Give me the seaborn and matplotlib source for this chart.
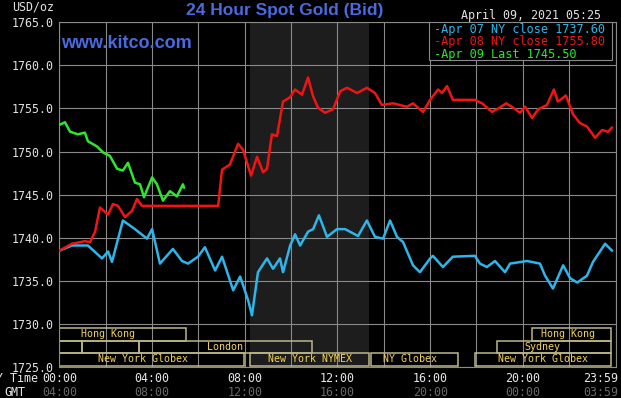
import pandas as pd
import matplotlib
matplotlib.use("Agg")
import matplotlib.pyplot as plt
from matplotlib.patches import Rectangle
import seaborn as sns

# hours after midnight (NY time) and bid in USD/oz
apr07_hours = [0.0, 0.54, 1.23, 1.84, 2.10, 2.27, 2.74, 3.26, 3.78, 4.00, 4.34, 4.90,
               5.29, 5.55, 5.98, 6.28, 6.72, 7.02, 7.50, 7.80, 8.15, 8.31, 8.57, 8.96,
               9.22, 9.52, 9.65, 9.96, 10.17, 10.39, 10.73, 10.95, 11.20, 11.55, 11.98,
               12.33, 12.89, 13.27, 13.62, 13.97, 14.27, 14.57, 14.83, 15.26, 15.56,
               16.00, 16.12, 16.55, 16.98, 17.93, 18.15, 18.45, 18.80, 19.23, 19.45,
               20.18, 20.74, 20.96, 21.30, 21.74, 22.04, 22.35, 22.77, 23.03, 23.55, 23.85]
apr07_bid = [1738.5, 1739.1, 1739.1, 1737.6, 1738.4, 1737.2, 1742.0, 1741.0, 1739.9, 1741.0,
             1737.0, 1738.7, 1737.3, 1737.0, 1737.8, 1738.9, 1736.2, 1737.8, 1733.9, 1735.5,
             1732.7, 1731.0, 1736.0, 1737.6, 1736.4, 1737.6, 1736.0, 1739.1, 1740.4, 1739.1,
             1740.7, 1741.0, 1742.6, 1740.1, 1741.0, 1741.0, 1740.2, 1742.0, 1740.1, 1739.9,
             1742.0, 1740.1, 1739.5, 1736.8, 1736.0, 1737.6, 1737.9, 1736.6, 1737.8, 1737.9,
             1737.0, 1736.6, 1737.3, 1736.0, 1737.0, 1737.3, 1737.0, 1735.6, 1734.1, 1736.8,
             1735.3, 1734.8, 1735.6, 1737.2, 1739.3, 1738.5]

apr08_hours = [0.0, 0.54, 1.10, 1.32, 1.54, 1.75, 2.10, 2.31, 2.53, 2.83, 3.13, 3.35, 3.56,
               6.85, 7.02, 7.36, 7.71, 7.93, 8.27, 8.53, 8.79, 8.96, 9.17, 9.39, 9.65, 9.95,
               10.17, 10.47, 10.73, 10.95, 11.16, 11.46, 11.81, 12.12, 12.41, 12.85, 13.27,
               13.62, 13.92, 14.40, 15.00, 15.26, 15.69, 16.00, 16.34, 16.51, 16.73, 16.98,
               17.93, 18.24, 18.67, 19.00, 19.28, 19.58, 19.88, 20.10, 20.40, 20.66, 21.04,
               21.34, 21.51, 21.86, 22.17, 22.47, 22.77, 23.12, 23.42, 23.68, 23.85]
apr08_bid = [1738.5, 1739.3, 1739.6, 1739.5, 1740.7, 1743.5, 1742.7, 1743.9, 1743.7, 1742.4,
             1743.1, 1744.5, 1743.7, 1743.7, 1747.9, 1748.5, 1750.9, 1750.2, 1747.2, 1749.4,
             1747.6, 1748.0, 1752.0, 1751.8, 1755.8, 1756.3, 1757.2, 1756.6, 1758.6, 1756.4,
             1755.1, 1754.5, 1754.9, 1757.0, 1757.4, 1756.8, 1757.4, 1756.8, 1755.4, 1755.6,
             1755.2, 1755.6, 1754.6, 1756.0, 1757.2, 1756.8, 1757.6, 1756.0, 1756.0, 1755.6,
             1754.6, 1755.1, 1755.6, 1755.1, 1754.5, 1755.2, 1753.9, 1754.9, 1755.4, 1757.2,
             1755.8, 1756.5, 1754.3, 1753.3, 1752.9, 1751.6, 1752.5, 1752.3, 1752.8]

apr09_hours = [0.0, 0.24, 0.46, 0.80, 1.10, 1.23, 1.62, 1.88, 2.18, 2.49, 2.74, 2.96, 3.26,
               3.48, 3.65, 4.00, 4.21, 4.47, 4.77, 5.07, 5.33, 5.38]
apr09_bid = [1753.1, 1753.4, 1752.3, 1752.0, 1752.2, 1751.2, 1750.6, 1749.9, 1749.5, 1748.0,
             1747.8, 1748.7, 1746.4, 1746.2, 1744.7, 1747.0, 1746.2, 1744.3, 1745.4, 1744.8,
             1746.2, 1745.8]

series_names = ["Apr 07", "Apr 08", "Apr 09"]
series_colors = ["#2cb6ea", "#f01414", "#2ee62e"]
legend_labels = ["-Apr 07 NY close 1737.60", "-Apr 08 NY close 1755.80", "-Apr 09 Last 1745.50"]

y_ticks = [1725, 1730, 1735, 1740, 1745, 1750, 1755, 1760, 1765]
tick_hours = [0, 4, 8, 12, 16, 20, 24]
ny_labels = ["00:00", "04:00", "08:00", "12:00", "16:00", "20:00", "23:59"]
gmt_labels = ["04:00", "08:00", "12:00", "16:00", "20:00", "00:00", "03:59"]

# market sessions: row (0 = top), start hour, end hour, label, label hour
session_rows = [0, 0, 1, 1, 1, 1, 2, 2, 2, 2]
session_start = [0.0, 20.38, 0.0, 0.96, 3.45, 18.87, 0.0, 8.23, 13.43, 17.94]
session_end = [5.45, 23.8, 0.96, 3.45, 10.89, 23.8, 7.95, 13.38, 17.2, 23.8]
session_names = ["Hong Kong", "Hong Kong", "", "", "London", "Sydney",
                 "New York Globex", "New York NYMEX", "NY Globex", "New York Globex"]
session_label_at = [2.1, 21.93, 0, 0, 7.15, 20.86, 3.62, 10.8, 15.15, 20.85]
nymex_open, nymex_close = 8.23, 13.38

frames = []
for name, hrs, bid in zip(series_names, [apr07_hours, apr08_hours, apr09_hours],
                          [apr07_bid, apr08_bid, apr09_bid]):
    frames.append(pd.DataFrame({"hour": hrs, "bid": bid, "day": name}))
df = pd.concat(frames, ignore_index=True)

sns.set_style("dark", {"axes.facecolor": "black", "figure.facecolor": "black",
                       "grid.color": "#8a8a8a", "axes.edgecolor": "#8a8a8a"})
plt.rcParams["font.family"] = ["DejaVu Sans Mono"]
mono = "DejaVu Sans Mono"
sans = "Liberation Sans"

W, H = 621, 398
fig = plt.figure(figsize=(W / 100, H / 100), dpi=100)
ax = fig.add_axes([59.4 / W, (H - 367) / H, (615.5 - 59.4) / W, (367 - 22.3) / H])

ax.axvspan(nymex_open, nymex_close, color="#1d1d1d", zorder=0.2, lw=0)

sns.lineplot(data=df, x="hour", y="bid", hue="day", palette=dict(zip(series_names, series_colors)),
             linewidth=1.8, legend=False, ax=ax, zorder=3)

ax.set_xlim(0, 24)
ax.set_ylim(1725, 1765)
ax.set_xticks(range(0, 25, 2))
ax.set_xticklabels([])
ax.set_yticks(y_ticks)
ax.set_yticklabels([f"{v:.1f}" for v in y_ticks], family=mono, fontsize=8.4, color="#e2e2e2")
ax.tick_params(axis="both", length=0)
ax.tick_params(axis="y", pad=4)
ax.grid(True, color="#8a8a8a", linewidth=0.8)
ax.set_axisbelow(True)
ax.set_xlabel("")
ax.set_ylabel("")
for sp in ax.spines.values():
    sp.set_color("#8a8a8a")
    sp.set_linewidth(0.8)

# x labels, NY row and GMT row
trans = ax.get_xaxis_transform()
for h, ny, gmt in zip(tick_hours, ny_labels, gmt_labels):
    ha = "right" if h == 24 else "center"
    dx = 0.12 if h == 24 else 0
    ax.text(h + dx, -0.032, ny, transform=trans, ha=ha, va="center", family=mono,
            fontsize=8.4, color="#e8e8e8", clip_on=False)
    ax.text(h + dx, -0.073, gmt, transform=trans, ha=ha, va="center", family=mono,
            fontsize=8.4, color="#6a6a6a", clip_on=False)
fig.text(38 / W, 1 - 378 / H, "NY Time", ha="right", va="center", family=mono, fontsize=8.4, color="#e8e8e8")
fig.text(15 / W, 1 - 392 / H, "GMT", ha="center", va="center", family=mono, fontsize=8.4, color="#e8e8e8")

# session boxes along the bottom
row_top = [1729.5, 1728.05, 1726.6]
row_h = 1.45
for r, s, e, name, lx in zip(session_rows, session_start, session_end, session_names, session_label_at):
    ax.add_patch(Rectangle((s, row_top[r] - row_h), e - s, row_h, fill=False,
                           edgecolor="#bdb78a", linewidth=1.1, zorder=2))
    if name:
        ax.text(lx, row_top[r] - row_h / 2, name, ha="center", va="center", family=mono,
                fontsize=7.2, color="#f4d35a", zorder=4)

# legend box, top right
ax.add_patch(Rectangle((15.95, 1760.6), 7.9, 4.4, facecolor="black", edgecolor="#8a8a8a",
                       linewidth=0.8, zorder=5))
for i, (lab, col) in enumerate(zip(legend_labels, series_colors)):
    fig.text(433.5 / W, 1 - (29.3 + 12.4 * i) / H, lab, ha="left", va="center", family=mono,
             fontsize=8.6, color=col, zorder=6)

fig.text(285 / W, 1 - 11 / H, "24 Hour Spot Gold (Bid)", ha="center", va="center",
         family=sans, fontsize=12.5, weight="bold", color="#4b69e1")
fig.text(61 / W, 1 - 43 / H, "www.kitco.com", ha="left", va="center",
         family=sans, fontsize=13, weight="bold", color="#4b69e1")
fig.text(461 / W, 1 - 15 / H, "April 09, 2021 05:25", ha="left", va="center",
         family=mono, fontsize=8.4, color="#e2e2e2")
fig.text(12 / W, 1 - 7.5 / H, "USD/oz", ha="left", va="center", family=mono,
         fontsize=8.4, color="#e2e2e2")

fig.savefig("out.png", dpi=100, facecolor="black")
